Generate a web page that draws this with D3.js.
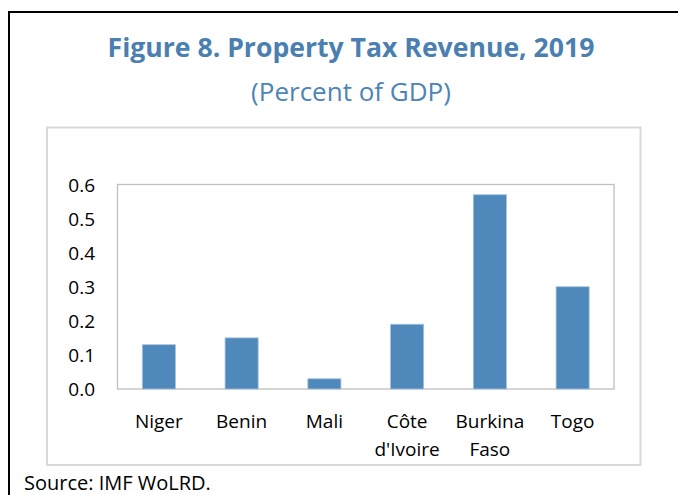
<!DOCTYPE html>
<html>
<head>
<meta charset="utf-8">
<script src="https://cdn.jsdelivr.net/npm/d3@7"></script>
<style>
  body { margin: 0; background: #fff; }
  svg { display: block; font-family: "Open Sans", "Noto Sans", sans-serif; }
</style>
</head>
<body>
<div id="chart"></div>
<script>
// Chart data
var countries = ["Niger", "Benin", "Mali", "Côte d'Ivoire", "Burkina Faso", "Togo"];
var labelLines = [["Niger"], ["Benin"], ["Mali"], ["Côte", "d'Ivoire"], ["Burkina", "Faso"], ["Togo"]];
var revenue = [0.13, 0.15, 0.03, 0.19, 0.57, 0.30];
var yTicks = [0, 0.1, 0.2, 0.3, 0.4, 0.5, 0.6];

var W = 678, H = 495;

var svg = d3.select("#chart")
  .append("svg")
  .attr("width", W)
  .attr("height", H);

// Frame lines (left + top only, as cropped in the source)
svg.append("path")
  .attr("d", "M9,495 V12 H678")
  .attr("fill", "none")
  .attr("stroke", "#000")
  .attr("stroke-width", 2);

// Title
svg.append("text")
  .attr("x", 351)
  .attr("y", 57)
  .attr("text-anchor", "middle")
  .style("font-size", "26.6px")
  .style("font-weight", "bold")
  .style("fill", "#4a7fb0")
  .text("Figure 8. Property Tax Revenue, 2019");

svg.append("text")
  .attr("x", 351)
  .attr("y", 101)
  .attr("text-anchor", "middle")
  .style("font-size", "26px")
  .style("fill", "#4d84b6")
  .text("(Percent of GDP)");

// Chart area box
svg.append("rect")
  .attr("x", 47)
  .attr("y", 127.5)
  .attr("width", 593.5)
  .attr("height", 337.5)
  .attr("fill", "#fff")
  .attr("stroke", "#d9d9d9")
  .attr("stroke-width", 2);

var plot = {left: 117.5, right: 614, top: 184.5, bottom: 389};

var x = d3.scaleBand()
  .domain(countries)
  .range([plot.left, plot.right])
  .paddingInner(0.6)
  .paddingOuter(0.3);

var y = d3.scaleLinear()
  .domain([0, 0.6])
  .range([plot.bottom, plot.top]);

// Plot area border
svg.append("rect")
  .attr("x", plot.left)
  .attr("y", plot.top)
  .attr("width", plot.right - plot.left)
  .attr("height", plot.bottom - plot.top)
  .attr("fill", "none")
  .attr("stroke", "#bfbfbf")
  .attr("stroke-width", 1.3);

// Bars
svg.selectAll(".bar")
  .data(revenue)
  .enter()
  .append("rect")
  .attr("class", "bar")
  .attr("x", function(d, i) { return x(countries[i]); })
  .attr("y", function(d) { return y(d); })
  .attr("width", x.bandwidth())
  .attr("height", function(d) { return y(0) - y(d); })
  .attr("fill", "#4f89bc")
  .attr("stroke", "#a7c3df")
  .attr("stroke-width", 0.8);

// Y axis labels
var yAxis = d3.axisLeft(y)
  .tickValues(yTicks)
  .tickFormat(d3.format(".1f"))
  .tickSize(0)
  .tickPadding(0);

var yg = svg.append("g")
  .attr("transform", "translate(95,0)")
  .call(yAxis);
yg.select(".domain").remove();
yg.selectAll("text")
  .style("font-family", "\"Open Sans\", sans-serif")
  .style("font-size", "19px")
  .style("fill", "#000")
  .attr("dy", "0.36em");

// X axis labels (wrapped)
var xl = svg.selectAll(".xlab")
  .data(labelLines)
  .enter()
  .append("text")
  .attr("class", "xlab")
  .attr("text-anchor", "middle")
  .style("font-size", "19px")
  .style("fill", "#000");

xl.selectAll("tspan")
  .data(function(d, i) { return d.map(function(s) { return {s: s, i: i}; }); })
  .enter()
  .append("tspan")
  .attr("x", function(d) { return x(countries[d.i]) + x.bandwidth() / 2; })
  .attr("y", function(d, j) { return 428 + j * 28; })
  .text(function(d) { return d.s; });

// Source note
svg.append("text")
  .attr("x", 24)
  .attr("y", 490)
  .style("font-size", "20px")
  .style("fill", "#000")
  .text("Source: IMF WoLRD.");
</script>
</body>
</html>
